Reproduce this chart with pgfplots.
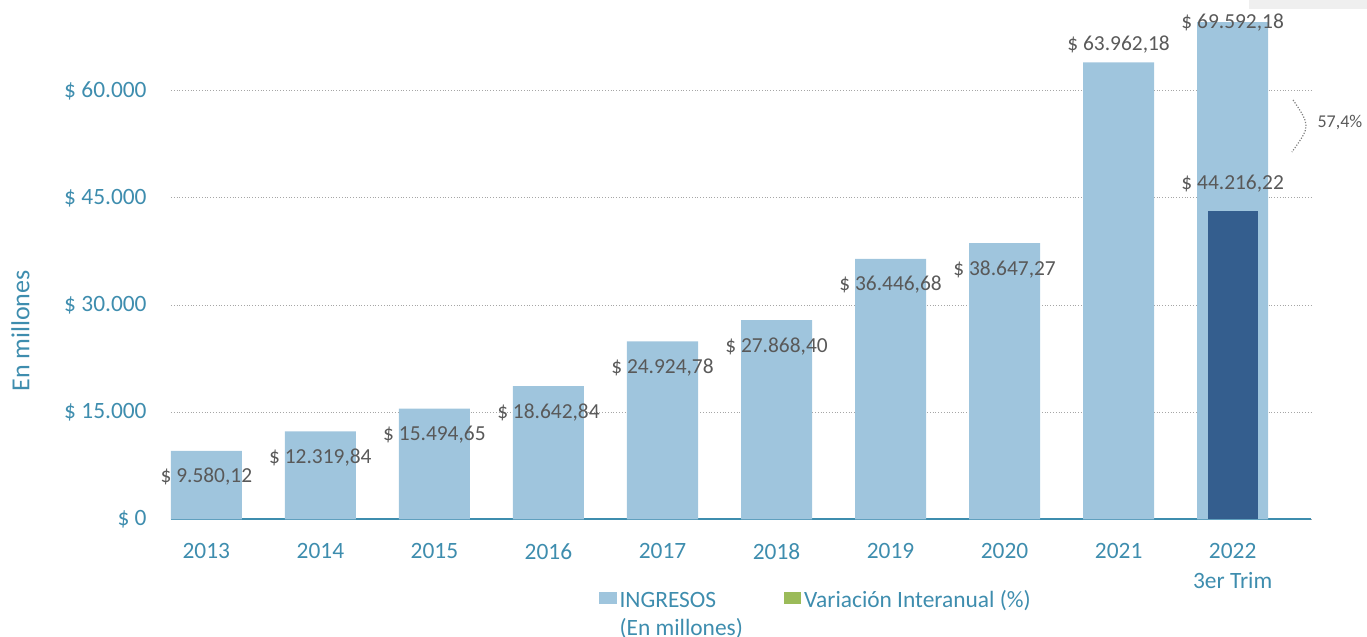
\documentclass[border=0pt]{standalone}
\usepackage{fontspec}
\setmainfont{Carlito}
\usepackage{pgfplots}
\usepackage{pgfplotstable}
\pgfplotsset{compat=1.18}
\definecolor{barlight}{HTML}{9FC5DD}
\definecolor{bardark}{HTML}{345E8E}
\definecolor{axisteal}{HTML}{3E8DAE}
\definecolor{lblgray}{HTML}{595959}
\definecolor{leggreen}{HTML}{9BBB59}
\definecolor{gridgray}{HTML}{A6A6A6}
\definecolor{boxgray}{HTML}{EFEFEF}

\pgfplotstableread{
x y lab off
0 9580.12 {\$ 9.580,12} -13
1 12319.84 {\$ 12.319,84} -13
2 15494.65 {\$ 15.494,65} -13
3 18642.84 {\$ 18.642,84} -13
4 24924.78 {\$ 24.924,78} -13
5 27868.40 {\$ 27.868,40} -13
6 36446.68 {\$ 36.446,68} -13
7 38647.27 {\$ 38.647,27} -13
8 63962.18 {\$ 63.962,18} 9
9 69592.18 {\$ 69.592,18} 0
}\ingresos
\pgfplotstableread{
x y lab off
9 43180 {\$ 44.216,22} 13.5
}\trim

\begin{document}
\begin{tikzpicture}
\useasboundingbox (-85.5pt,-58.85pt) rectangle (598pt,259.65pt);
\begin{axis}[
  scale only axis, width=570pt, height=259.65pt,
  xmin=-0.31, xmax=9.687, ymin=0, ymax=72700,
  axis x line*=bottom, axis y line*=left,
  x axis line style={-, draw=axisteal, line width=1pt},
  y axis line style={draw=none},
  xtick={0,1,2,3,4,5,6,7,8,9},
  xticklabels={2013,2014,2015,2016,2017,2018,2019,2020,2021,{2022\\3er Trim}},
  ytick={0,15000,30000,45000,60000},
  yticklabels={\$ 0,\$ 15.000,\$ 30.000,\$ 45.000,\$ 60.000},
  major tick length=0pt,
  ymajorgrids,
  grid style={gridgray, line width=0.5pt, dash pattern=on 0.5pt off 0.9pt},
  xticklabel style={anchor=north, yshift=-11.9pt, inner sep=0pt, align=center,
    font=\fontsize{11.7}{15}\selectfont, text=axisteal},
  yticklabel style={anchor=east, xshift=-12pt, inner sep=0pt,
    font=\fontsize{11.7}{14}\selectfont, text=axisteal},
  clip=false,
  legend columns=2,
  legend cell align=left,
  legend image code/.code={\fill[#1] (0pt,-1.7pt) rectangle (8.6pt,4.5pt);},
  legend style={at={(0.3754,-0.1317)}, anchor=north west, draw=none, fill=none,
    inner sep=0pt, row sep=1pt, column sep=0pt,
    /tikz/column 2/.style={column sep=19pt},
    nodes={inner ysep=0.5pt, inner xsep=1.5pt, text height=9pt, text depth=3pt, text=axisteal,
      font=\fontsize{11.7}{14}\selectfont}},
]
\addplot[ybar, bar width=0.623, bar shift=0pt, fill=barlight, draw=none, forget plot,
  nodes near coords, point meta=explicit symbolic,
  visualization depends on={\thisrow{off} \as \myoff},
  every node near coord/.append style={anchor=center, yshift=\myoff pt,
    font=\fontsize{10.7}{12}\selectfont, text=lblgray}]
  table[x=x, y=y, meta=lab]{\ingresos};
\addplot[ybar, bar width=0.4385, bar shift=0pt, fill=bardark, draw=none, forget plot,
  nodes near coords, point meta=explicit symbolic,
  visualization depends on={\thisrow{off} \as \myoff},
  every node near coord/.append style={anchor=center, yshift=\myoff pt,
    font=\fontsize{10.7}{12}\selectfont, text=lblgray}]
  table[x=x, y=y, meta=lab]{\trim};
\addlegendimage{fill=barlight, draw=none}
\addlegendentry{INGRESOS}
\addlegendimage{fill=leggreen, draw=none}
\addlegendentry{Variación Interanual (\%)}
\addlegendimage{empty legend}
\addlegendentry{(En millones)}
\draw[gray, line width=0.6pt, dash pattern=on 0.6pt off 0.8pt]
  (axis cs:9.53,58700) .. controls (axis cs:9.683,55060) .. (axis cs:9.52,51420);
\node[font=\fontsize{9}{11}\selectfont, text=lblgray] at (axis cs:9.94,55480) {57,4\%};
\end{axis}
\node[rotate=90, font=\fontsize{13}{15}\selectfont, text=axisteal] at (-75.25pt,94.2pt) {En millones};
\fill[boxgray] (539pt,255.15pt) rectangle (598pt,259.65pt);
\end{tikzpicture}
\end{document}
